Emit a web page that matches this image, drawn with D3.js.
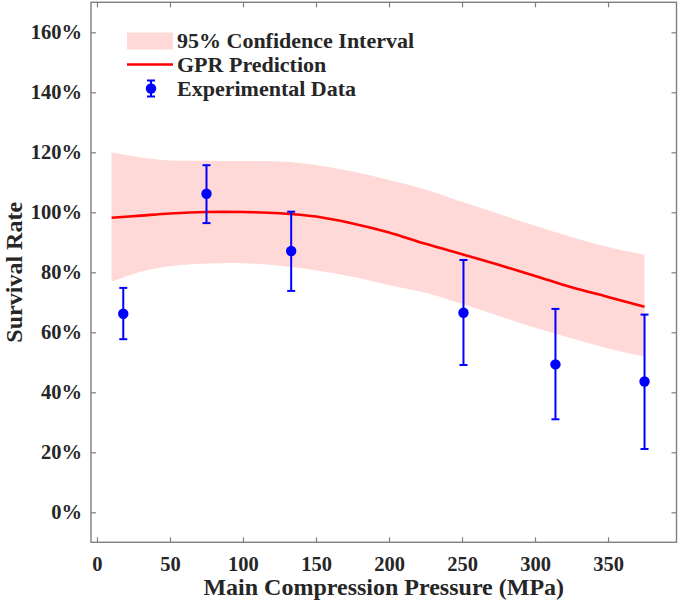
<!DOCTYPE html>
<html>
<head>
<meta charset="utf-8">
<script src="https://cdn.jsdelivr.net/npm/d3@7"></script>
<style>
  html, body { margin: 0; padding: 0; background: #fff; }
  svg { display: block; }
  svg text { font-family: "Liberation Serif", "Times New Roman", serif; font-weight: bold; }
</style>
</head>
<body>
<div id="chart"></div>
<script>
// GPR prediction grid (pressure, MPa) with mean and 95% CI bounds (%)
const gridPressure = [10, 30, 50, 75, 100, 125, 150, 175, 200, 225, 250, 275, 300, 325, 350, 375];
const gprMean      = [98.2, 98.9, 99.6, 100.1, 100.1, 99.7, 98.6, 96.3, 93.3, 89.5, 86.0, 82.5, 78.8, 75.0, 71.8, 68.5];
const ciUpper      = [119.9, 118.3, 117.3, 117.2, 117.1, 116.9, 115.8, 113.6, 110.8, 107.6, 103.5, 99.5, 95.5, 91.8, 88.4, 85.8];
const ciLower      = [76.9, 80.2, 82.0, 82.9, 83.0, 82.2, 80.7, 78.5, 75.8, 73.2, 69.5, 65.5, 61.5, 58.0, 54.6, 51.9];

// experimental points
const expPressure = [18, 75, 133, 251, 314, 375];
const expRate     = [66.2, 106.2, 87.1, 66.5, 49.3, 43.6];
const expUpper    = [74.8, 115.7, 100.2, 84.1, 67.8, 65.9];
const expLower    = [57.7, 96.4, 73.8, 49.1, 31.0, 21.1];

const xTicks = [0, 50, 100, 150, 200, 250, 300, 350];
const yTicks = [0, 20, 40, 60, 80, 100, 120, 140, 160];

const legendLabels = ["95% Confidence Interval", "GPR Prediction", "Experimental Data"];

const W = 679, H = 604;
const margin = { top: 2.3, right: 2.5, bottom: 61.7, left: 91 };
const innerW = W - margin.left - margin.right;
const innerH = H - margin.top - margin.bottom;

const svg = d3.select("#chart").append("svg")
    .attr("width", W)
    .attr("height", H);

const g = svg.append("g")
    .attr("transform", `translate(${margin.left},${margin.top})`);

const x = d3.scaleLinear().domain([-4.1, 396.9]).range([0, innerW]);
const y = d3.scaleLinear().domain([-10, 170]).range([innerH, 0]);

const grid = gridPressure.map((p, i) => ({ p, m: gprMean[i], lo: ciLower[i], hi: ciUpper[i] }));
const pts = expPressure.map((p, i) => ({ p, v: expRate[i], lo: expLower[i], hi: expUpper[i] }));

// confidence band
g.append("path")
    .datum(grid)
    .attr("fill", "#ffd8d8")
    .attr("d", d3.area()
        .x(d => x(d.p))
        .y0(d => y(d.lo))
        .y1(d => y(d.hi))
        .curve(d3.curveCatmullRom));

// GPR mean
g.append("path")
    .datum(grid)
    .attr("fill", "none")
    .attr("stroke", "#ff0000")
    .attr("stroke-width", 2.6)
    .attr("d", d3.line()
        .x(d => x(d.p))
        .y(d => y(d.m))
        .curve(d3.curveCatmullRom));

// error bars
const blue = "#0000ff";
const bars = g.append("g").attr("stroke", blue).attr("stroke-width", 2);
bars.selectAll(".stem").data(pts).enter().append("line")
    .attr("x1", d => x(d.p)).attr("x2", d => x(d.p))
    .attr("y1", d => y(d.lo)).attr("y2", d => y(d.hi));
bars.selectAll(".capTop").data(pts).enter().append("line")
    .attr("x1", d => x(d.p) - 4).attr("x2", d => x(d.p) + 4)
    .attr("y1", d => y(d.hi)).attr("y2", d => y(d.hi));
bars.selectAll(".capBot").data(pts).enter().append("line")
    .attr("x1", d => x(d.p) - 4).attr("x2", d => x(d.p) + 4)
    .attr("y1", d => y(d.lo)).attr("y2", d => y(d.lo));
g.selectAll(".dot").data(pts).enter().append("circle")
    .attr("cx", d => x(d.p))
    .attr("cy", d => y(d.v))
    .attr("r", 5.2)
    .attr("fill", blue);

// axes: ticks inward on all four sides
const axisColor = "#7f7f7f";
function styleAxis(sel) {
    sel.select(".domain").remove();
    sel.selectAll(".tick line").attr("stroke", axisColor).attr("stroke-width", 1.2);
    sel.selectAll(".tick text").attr("fill", "#262626").style("font-size", "20.5px");
}

g.append("g")
    .attr("transform", `translate(0,${innerH})`)
    .call(d3.axisBottom(x).tickValues(xTicks).tickSize(-5).tickPadding(14))
    .call(styleAxis);

g.append("g")
    .call(d3.axisTop(x).tickValues(xTicks).tickSize(-5).tickFormat(""))
    .call(styleAxis);

g.append("g")
    .call(d3.axisLeft(y).tickValues(yTicks).tickSize(-5).tickPadding(9).tickFormat(d => d + "%"))
    .call(styleAxis);

g.append("g")
    .attr("transform", `translate(${innerW},0)`)
    .call(d3.axisRight(y).tickValues(yTicks).tickSize(-5).tickFormat(""))
    .call(styleAxis);

g.append("rect")
    .attr("width", innerW)
    .attr("height", innerH)
    .attr("fill", "none")
    .attr("stroke", axisColor)
    .attr("stroke-width", 1.4);

// axis titles
svg.append("text")
    .attr("x", margin.left + innerW / 2)
    .attr("y", 595)
    .attr("text-anchor", "middle")
    .attr("fill", "#262626")
    .style("font-size", "24px")
    .text("Main Compression Pressure (MPa)");

svg.append("text")
    .attr("transform", `translate(22,${margin.top + innerH / 2}) rotate(-90)`)
    .attr("text-anchor", "middle")
    .attr("fill", "#262626")
    .style("font-size", "24px")
    .text("Survival Rate");

// legend
const legend = svg.append("g").attr("transform", "translate(127,0)");
const rowY = [41, 64.5, 88.5];

legend.append("rect")
    .attr("x", 0).attr("y", rowY[0] - 8.5)
    .attr("width", 46).attr("height", 17)
    .attr("fill", "#ffd8d8");

legend.append("line")
    .attr("x1", 0).attr("x2", 46)
    .attr("y1", rowY[1]).attr("y2", rowY[1])
    .attr("stroke", "#ff0000").attr("stroke-width", 2.6);

legend.append("line")
    .attr("x1", 24).attr("x2", 24)
    .attr("y1", rowY[2] - 8).attr("y2", rowY[2] + 8)
    .attr("stroke", blue).attr("stroke-width", 2);
[-8, 8].forEach(dy => legend.append("line")
    .attr("x1", 20).attr("x2", 28)
    .attr("y1", rowY[2] + dy).attr("y2", rowY[2] + dy)
    .attr("stroke", blue).attr("stroke-width", 2));
legend.append("circle")
    .attr("cx", 24).attr("cy", rowY[2]).attr("r", 5.2).attr("fill", blue);

legend.selectAll(".lbl").data(legendLabels).enter().append("text")
    .attr("x", 50)
    .attr("y", (d, i) => rowY[i])
    .attr("dy", "0.33em")
    .attr("fill", "#262626")
    .style("font-size", "22px")
    .text(d => d);
</script>
</body>
</html>
